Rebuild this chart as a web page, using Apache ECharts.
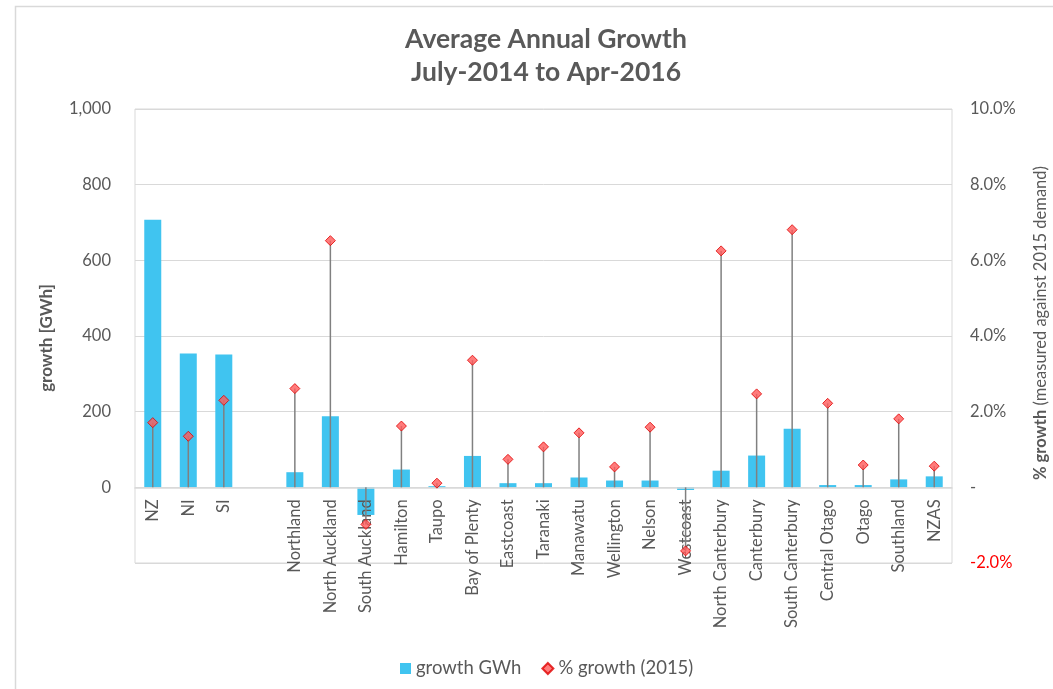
<!DOCTYPE html>
<html>
<head>
<meta charset="utf-8">
<title>Average Annual Growth</title>
<script src="https://cdn.jsdelivr.net/npm/echarts@6/dist/echarts.min.js"></script>
<style>
  html, body { margin: 0; padding: 0; background: #ffffff; }
  #chart { width: 1053px; height: 689px; }
</style>
</head>
<body>
<div id="chart"></div>
<script>
// Regions (blank slot separates island totals from the regional breakdown)
const regions = ['NZ', 'NI', 'SI', '', 'Northland', 'North Auckland', 'South Auckland', 'Hamilton',
  'Taupo', 'Bay of Plenty', 'Eastcoast', 'Taranaki', 'Manawatu', 'Wellington', 'Nelson',
  'Westcoast', 'North Canterbury', 'Canterbury', 'South Canterbury', 'Central Otago',
  'Otago', 'Southland', 'NZAS'];

// Average annual growth in GWh
const growthGWh = [707, 354, 351, null, 40, 188, -73, 47, 3, 83, 11, 11, 26, 18, 18,
  -7, 44, 84, 155, 6, 6, 21, 29];

// Growth in percent, measured against 2015 demand
const growthPct = [1.71, 1.35, 2.30, null, 2.61, 6.52, -0.98, 1.62, 0.11, 3.36, 0.74, 1.07,
  1.44, 0.54, 1.59, -1.68, 6.25, 2.47, 6.81, 2.22, 0.59, 1.81, 0.56];

const textGray = '#595959';
const lineGray = '#d9d9d9';
const fontFamily = 'Lato, "Open Sans", sans-serif';

const chart = echarts.init(document.getElementById('chart'));

chart.setOption({
  backgroundColor: '#ffffff',
  animation: false,
  textStyle: { fontFamily: fontFamily },
  title: {
    text: 'Average Annual Growth\nJuly-2014 to Apr-2016',
    left: 541,
    top: 18,
    textAlign: 'center',
    textStyle: {
      fontFamily: fontFamily,
      fontSize: 26.5,
      fontWeight: 'bold',
      color: textGray,
      lineHeight: 33
    }
  },
  legend: {
    bottom: 6,
    left: 395,
    itemGap: 20,
    itemWidth: 11,
    itemHeight: 11,
    textStyle: { fontFamily: fontFamily, fontSize: 18.5, color: textGray },
    data: [
      { name: 'growth GWh', icon: 'rect' },
      { name: '% growth (2015)', icon: 'diamond' }
    ]
  },
  grid: {
    left: 135,
    right: 101,
    top: 109,
    bottom: 126,
    outerBoundsMode: 'none',
    containLabel: false,
    show: true,
    borderColor: lineGray,
    borderWidth: 1
  },
  xAxis: {
    type: 'category',
    data: regions,
    position: 'bottom',
    z: 3,
    axisLine: { onZero: false, lineStyle: { color: lineGray, width: 1.5 } },
    axisTick: { show: false },
    axisLabel: {
      interval: 0,
      rotate: 90,
      margin: 12,
      fontSize: 16.5,
      color: textGray,
      fontFamily: fontFamily
    }
  },
  yAxis: [
    {
      type: 'value',
      min: -200,
      max: 1000,
      interval: 200,
      axisLine: { show: false },
      axisTick: { show: false },
      splitLine: { lineStyle: { color: lineGray, width: 1 } },
      axisLabel: {
        margin: 24,
        fontSize: 16.5,
        color: textGray,
        fontFamily: fontFamily,
        formatter: function (v) { return v < 0 ? '' : v.toLocaleString('en-US'); }
      }
    },
    {
      type: 'value',
      min: -2,
      max: 10,
      interval: 2,
      axisLine: { show: false },
      axisTick: { show: false },
      splitLine: { show: false },
      axisLabel: {
        margin: 18,
        fontSize: 16.5,
        fontFamily: fontFamily,
        color: function (v) { return Number(v) < 0 ? '#ff0000' : textGray; },
        formatter: function (v) {
          if (v === 0) return '-';
          return v.toFixed(1) + '%';
        }
      }
    }
  ],
  series: [
    {
      name: 'growth GWh',
      type: 'bar',
      yAxisIndex: 0,
      data: growthGWh,
      barWidth: 17,
      itemStyle: { color: '#40c4f0' },
      z: 2
    },
    {
      // drop lines from each percentage marker to the zero line
      name: 'drop lines',
      type: 'custom',
      yAxisIndex: 1,
      silent: true,
      z: 4,
      data: growthPct.map(function (v, i) { return [i, v]; }),
      renderItem: function (params, api) {
        const v = api.value(1);
        if (v === null || v === undefined || isNaN(v)) return null;
        const top = api.coord([api.value(0), v]);
        const base = api.coord([api.value(0), 0]);
        return {
          type: 'line',
          shape: { x1: top[0], y1: base[1], x2: top[0], y2: top[1] },
          style: { stroke: '#808080', lineWidth: 1.5 }
        };
      }
    },
    {
      name: '% growth (2015)',
      type: 'scatter',
      yAxisIndex: 1,
      data: growthPct,
      symbol: 'diamond',
      symbolSize: 10,
      itemStyle: { color: '#ff5a5a', borderColor: '#e00000', borderWidth: 1 },
      z: 5
    }
  ],
  graphic: [
    {
      // outer chart frame
      type: 'rect',
      shape: { x: 15.5, y: 6.5, width: 1060, height: 700 },
      style: { fill: 'none', stroke: lineGray, lineWidth: 1.5 },
      silent: true
    },
    {
      type: 'text',
      x: 47,
      y: 338,
      rotation: Math.PI / 2,
      style: {
        text: 'growth [GWh]',
        fill: textGray,
        font: 'bold 17px ' + fontFamily,
        align: 'center',
        verticalAlign: 'middle'
      }
    },
    {
      type: 'text',
      x: 1041,
      y: 323,
      rotation: Math.PI / 2,
      style: {
        text: '{b|% growth} (measured against 2015 demand)',
        fill: textGray,
        font: '16.5px ' + fontFamily,
        align: 'center',
        verticalAlign: 'middle',
        rich: {
          b: { fontWeight: 'bold', fontSize: 16.5, fill: textGray, fontFamily: fontFamily }
        }
      }
    }
  ]
});

// Category axis sits on the zero line of the GWh scale: shift it up from the
// bottom edge by the distance between the scale's minimum and zero.
const minPx = chart.convertToPixel({ yAxisIndex: 0 }, -200);
const zeroPx = chart.convertToPixel({ yAxisIndex: 0 }, 0);
chart.setOption({ xAxis: { offset: zeroPx - minPx } });
</script>
</body>
</html>
